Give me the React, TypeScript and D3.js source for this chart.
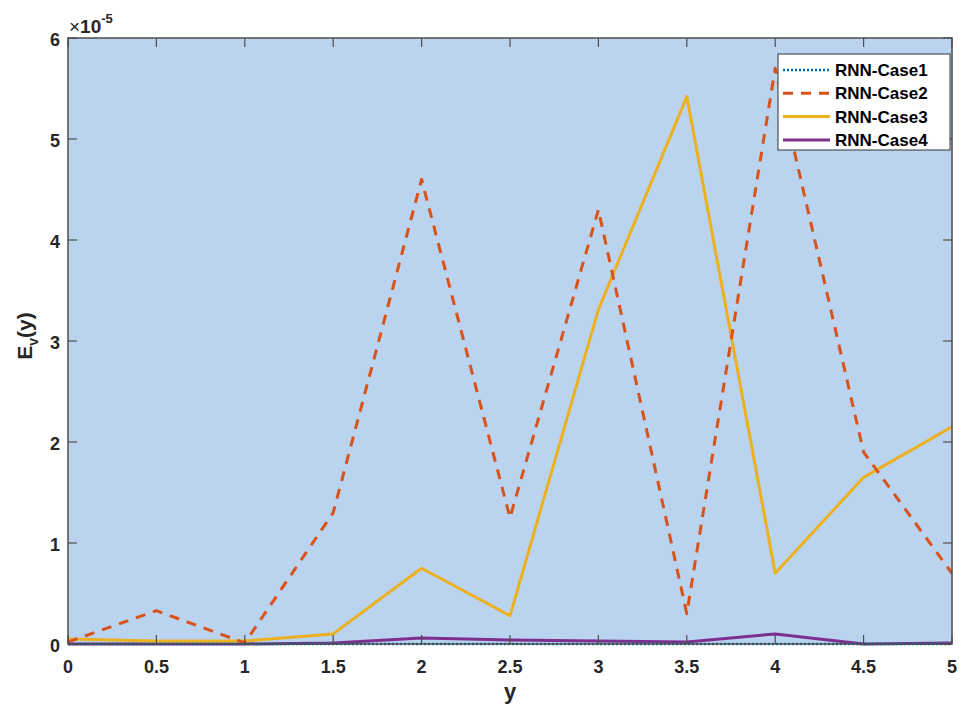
import React from "react";
import * as d3 from "d3";

const xs = [0, 0.5, 1, 1.5, 2, 2.5, 3, 3.5, 4, 4.5, 5];
const case1 = [0.0, 0.0, 0.0, 0.0, 0.0, 0.0, 0.0, 0.0, 0.0, 0.0, 0.0];
const case2 = [0.02, 0.33, 0.01, 1.3, 4.6, 1.25, 4.3, 0.3, 5.7, 1.9, 0.7];
const case3 = [0.05, 0.03, 0.03, 0.1, 0.75, 0.28, 3.31, 5.42, 0.7, 1.65, 2.15];
const case4 = [0.0, 0.0, 0.0, 0.01, 0.06, 0.04, 0.03, 0.02, 0.1, 0.0, 0.01];
const xTicks = [0, 0.5, 1, 1.5, 2, 2.5, 3, 3.5, 4, 4.5, 5];
const yTicks = [0, 1, 2, 3, 4, 5, 6];
const seriesNames = ["RNN-Case1", "RNN-Case2", "RNN-Case3", "RNN-Case4"];

export default function App() {
  const W = 964, H = 709;
  const L = 68, R = 952, T = 38, B = 644;
  const x = d3.scaleLinear().domain([0, 5]).range([L, R]);
  const y = d3.scaleLinear().domain([0, 6]).range([B, T]);
  const line = d3.line<number>().x((_, i) => x(xs[i])).y((d) => y(d));
  const series = [
    { name: seriesNames[0], data: case1, color: "#0072bd", dash: "2,2", w: 2.5 },
    { name: seriesNames[1], data: case2, color: "#d95319", dash: "10,8", w: 3 },
    { name: seriesNames[2], data: case3, color: "#edb120", dash: "", w: 3 },
    { name: seriesNames[3], data: case4, color: "#7e2f8e", dash: "", w: 3 },
  ];
  const font = "'Liberation Sans', Arial, sans-serif";
  const axisColor = "#4d4d4d";
  const textColor = "#262626";
  const legX = 778, legY = 54, legW = 172, legH = 96;
  return (
    <svg width={W} height={H} style={{ position: "absolute", left: 0, top: 0, background: "#fff" }}>
      <rect x={L} y={T} width={R - L} height={B - T} fill="#bad4f0" />
      <defs>
        <clipPath id="clip">
          <rect x={L} y={T - 2} width={R - L} height={B - T + 4} />
        </clipPath>
      </defs>
      <g clipPath="url(#clip)">
        {[...series].reverse().map((s) => (
          <path key={s.name} d={line(s.data) || ""} fill="none" stroke={s.color} strokeWidth={s.w}
            strokeDasharray={s.dash || undefined} strokeLinejoin="round" />
        ))}
      </g>
      <rect x={L} y={T} width={R - L} height={B - T} fill="none" stroke={axisColor} strokeWidth={1.5} />
      {xTicks.map((t) => (
        <g key={"x" + t}>
          <line x1={x(t)} x2={x(t)} y1={B} y2={B - 9} stroke={axisColor} strokeWidth={1.2} />
          <line x1={x(t)} x2={x(t)} y1={T} y2={T + 9} stroke={axisColor} strokeWidth={1.2} />
          <text x={x(t)} y={B + 29} textAnchor="middle" fontFamily={font} fontWeight="bold" fontSize={18} fill={textColor}>{t}</text>
        </g>
      ))}
      {yTicks.map((t) => (
        <g key={"y" + t}>
          <line x1={L} x2={L + 9} y1={y(t)} y2={y(t)} stroke={axisColor} strokeWidth={1.2} />
          <line x1={R} x2={R - 9} y1={y(t)} y2={y(t)} stroke={axisColor} strokeWidth={1.2} />
          <text x={L - 8} y={y(t) + 8} textAnchor="end" fontFamily={font} fontWeight="bold" fontSize={18} fill={textColor}>{t}</text>
        </g>
      ))}
      <text x={69} y={33} fontFamily={font} fontSize={19} fill={textColor}>
        <tspan fontWeight="normal">×</tspan><tspan fontWeight="bold">10</tspan><tspan dy={-10} fontSize={13} fontWeight="bold">-5</tspan>
      </text>
      <text x={(L + R) / 2} y={699} textAnchor="middle" fontFamily={font} fontWeight="bold" fontSize={22} fill={textColor}>y</text>
      <text transform="translate(32,336) rotate(-90)" textAnchor="middle" fontFamily={font} fontWeight="bold" fontSize={21} fill={textColor}>
        E<tspan dy={6} fontSize={14}>v</tspan><tspan dy={-6}>(y)</tspan>
      </text>
      <rect x={legX} y={legY} width={legW} height={legH} fill="#fff" stroke="#333" strokeWidth={1} />
      {series.map((s, i) => {
        const cy = legY + 16 + i * 23.3;
        return (
          <g key={"leg" + s.name}>
            <line x1={legX + 5} x2={legX + 52} y1={cy} y2={cy} stroke={s.color} strokeWidth={s.w}
              strokeDasharray={s.dash || undefined} />
            <text x={legX + 57} y={cy + 6} fontFamily={font} fontWeight="bold" fontSize={17} fill="#000">{s.name}</text>
          </g>
        );
      })}
    </svg>
  );
}
